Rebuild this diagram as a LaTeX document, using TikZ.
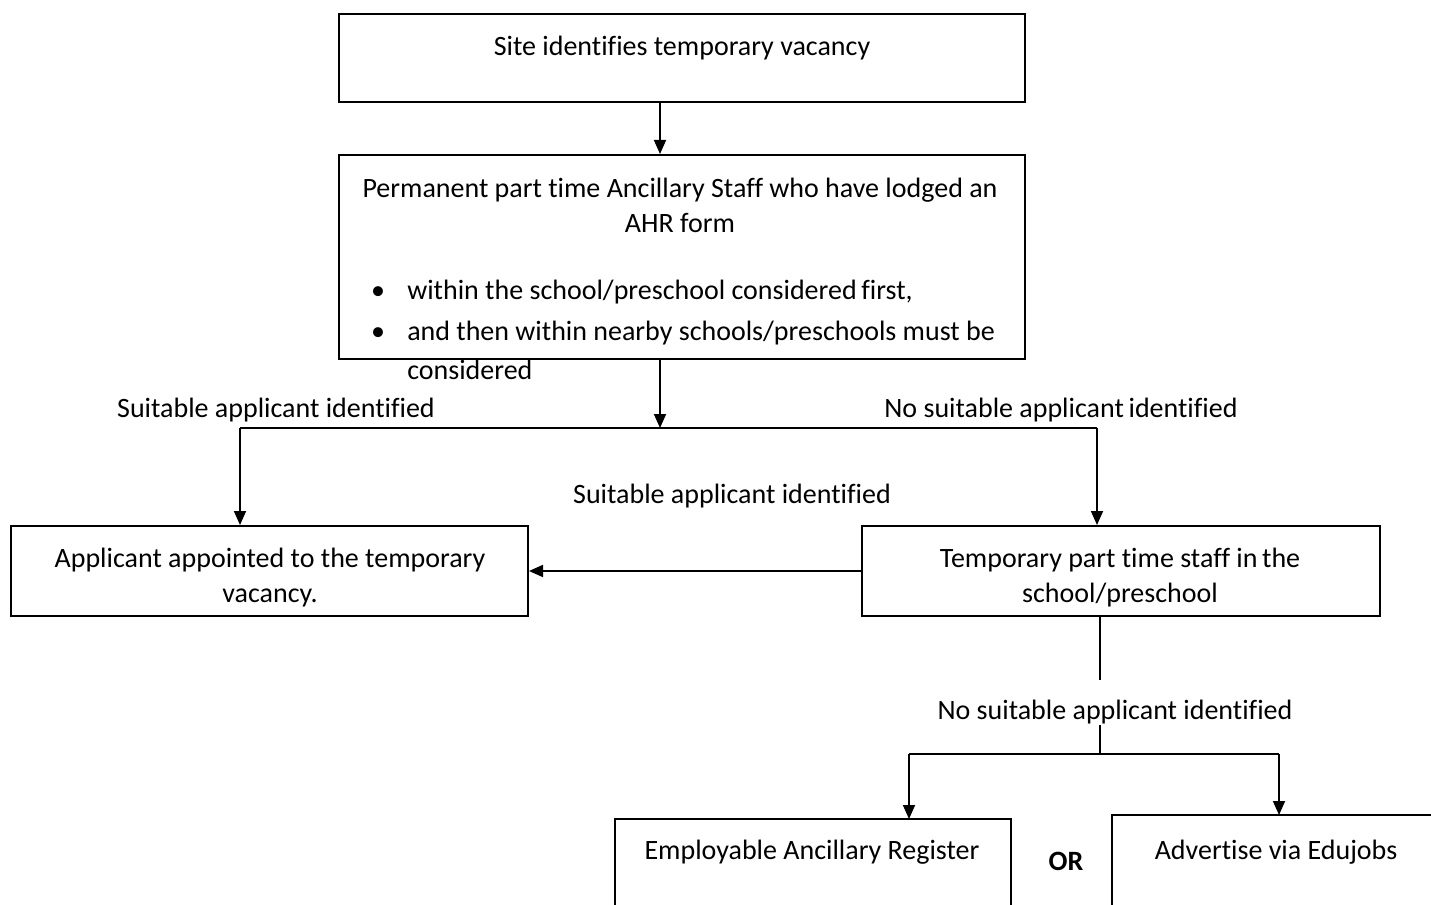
\documentclass[tikz,border=0pt]{standalone}
\usepackage{fontspec}
\setmainfont{Carlito}[Ligatures=CommonOff]
\usetikzlibrary{arrows.meta,fit}
\begin{document}
\begin{tikzpicture}[x=0.75pt,y=-0.75pt,
  every node/.style={font=\fontsize{21}{26.25}\selectfont, inner sep=0pt},
  boxstyle/.style={draw, line width=1.5pt, inner sep=0pt},
  conn/.style={line width=1.3pt},
  arr/.style={conn, -{Triangle[length=10.5pt,width=9pt]}},
  lbl/.style={anchor=center, yshift=-2pt},
  lft/.style={anchor=west, yshift=-2pt}]
\useasboundingbox (0,0) rectangle (1431,905);
% boxes
\node[boxstyle, fit={(339,14) (1025,102)}] (box1) {};
\node[boxstyle, fit={(339,155) (1025,359)}] (box2) {};
\node[boxstyle, fit={(11,526) (528,616)}] (box3) {};
\node[boxstyle, fit={(862,526) (1380,616)}] (box4) {};
\draw[line width=1.5pt] (615,905) -- (615,819) coordinate (b5l) -- (1011,819) coordinate (b5r) -- (1011,905);
\draw[line width=1.5pt] (1112,905) -- (1112,815) coordinate (b6l) -- (1431,815) coordinate (b6r);
% texts
\node[lbl] (t1) at (682,46) {\strut Site identifies temporary vacancy};
\node[lbl] (t2a) at (680,188) {\strut Permanent part time Ancillary Staff who have lodged an};
\node[lbl] (t2b) at (680,223) {\strut AHR form};
\node[lbl] (bul1) at (378,290) {\strut\textbullet};
\node[lft] (t2c) at (407,290) {\strut within the school/preschool considered\,first,};
\node[lbl] (bul2) at (378,331) {\strut\textbullet};
\node[lft] (t2d) at (407,331) {\strut and then within nearby schools/preschools must be};
\node[lft] (t2e) at (407,370) {\strut considered};
\node[lbl] (l1) at (276,408) {\strut Suitable applicant identified};
\node[lbl] (l2) at (1061,408) {\strut No suitable applicant\,identified};
\node[lbl] (l3) at (732,494) {\strut Suitable applicant identified};
\node[lbl] (t3a) at (270,558) {\strut Applicant appointed to the temporary};
\node[lbl] (t3b) at (270,593) {\strut vacancy.};
\node[lbl] (t4a) at (1120,558) {\strut Temporary part time staff in\,the};
\node[lbl] (t4b) at (1120,593) {\strut school/preschool};
\node[lbl] (l4) at (1115,710) {\strut No suitable applicant identified};
\node[lbl] (t5) at (812,850) {\strut Employable Ancillary Register};
\node[lbl, font=\fontsize{21}{26.25}\selectfont\bfseries] (or) at (1066,861) {\strut OR};
\node[lbl] (t6) at (1276,850) {\strut Advertise via Edujobs};
% connectors
\coordinate (j1) at (660,428);
\coordinate (jl) at (240,428);
\coordinate (jr) at (1097,428);
\coordinate (v1) at (1100,680);
\coordinate (v2) at (1100,725);
\coordinate (j2) at (1100,754);
\coordinate (j2l) at (909,754);
\coordinate (j2r) at (1279,754);
\draw[arr] (box1.south -| j1) -- (box2.north -| j1);
\draw[arr] (box2.south -| j1) -- (j1);
\draw[conn] (jl) -- (jr);
\draw[arr] (jl) -- (box3.north -| jl);
\draw[arr] (jr) -- (box4.north -| jr);
\draw[arr] (box4.west |- 0,571) -- (box3.east |- 0,571);
\draw[conn] (box4.south -| v1) -- (v1);
\draw[conn] (v2) -- (j2);
\draw[conn] (j2l) -- (j2r);
\draw[arr] (j2l) -- (j2l |- b5l);
\draw[arr] (j2r) -- (j2r |- b6l);
\end{tikzpicture}
\end{document}
